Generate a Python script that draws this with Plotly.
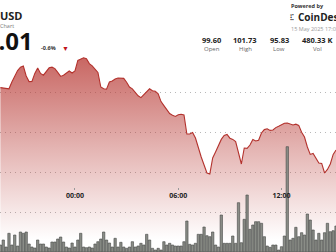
import plotly.graph_objects as go
import pandas as pd

# ---------------- data ----------------
start_time = "2025-05-14 19:40"
price = [100.22, 100.20, 100.19, 100.16, 100.50, 100.82, 101.07, 101.24, 101.30, 100.80,
         100.52, 100.53, 100.93, 101.20, 100.93, 100.84, 101.05, 101.21, 101.24, 101.17,
         100.98, 100.78, 100.84, 100.97, 101.05, 100.95, 101.05, 101.58, 101.64, 101.71,
         101.66, 101.42, 101.31, 101.17, 100.98, 100.25, 100.16, 100.14, 100.50, 100.55,
         100.65, 100.70, 100.68, 100.68, 100.49, 100.25, 100.16, 99.97, 99.81, 99.72,
         99.85, 100.00, 100.16, 100.06, 100.04, 99.91, 99.52, 99.32, 99.11, 98.92,
         98.84, 98.78, 98.86, 98.89, 98.85, 97.90, 97.90, 97.98, 97.70, 97.16,
         96.75, 96.35, 95.95, 95.90, 96.70, 97.00, 97.35, 97.63, 97.83, 97.88,
         97.69, 97.63, 97.52, 96.93, 96.40, 97.20, 97.18, 97.35, 97.63, 97.55,
         97.59, 97.95, 98.12, 98.16, 98.08, 98.10, 98.22, 98.29, 98.35, 98.44,
         98.45, 98.38, 98.35, 98.39, 98.33, 97.99, 97.75, 97.25, 96.88, 96.93,
         96.68, 96.45, 96.43, 95.95, 96.13, 96.40, 96.88, 97.10]
volume = [7, 12, 5, 18.7, 7, 17, 6, 20, 18.7, 20,
          8, 5, 4, 12, 8, 8, 5, 4, 10, 10,
          13, 15, 10, 5, 4, 9, 5, 12, 18.7, 5,
          4.3, 5, 4, 8, 10.3, 13, 20, 12, 9, 5,
          13.7, 5, 9.7, 5, 3.7, 5, 10.3, 5, 6, 8.7,
          7, 17.7, 12, 3.7, 2, 3.7, 2, 10.3, 7, 8.7,
          7, 6, 6, 6, 10.3, 31, 7.7, 7, 8.7, 17.7,
          17.7, 25, 16.3, 15.3, 20, 7, 5, 37, 8.7, 8.7,
          8.7, 16, 8.7, 49.3, 9.3, 32.7, 57, 22.7, 27, 30.3,
          30.3, 28.7, 15.3, 6, 4.7, 7, 7, 2, 5.3, 16,
          105.3, 12, 13.7, 24.7, 15.3, 19.3, 17, 38, 32, 22,
          12, 18.7, 12, 19.3, 28.7, 20.3, 21.3, 26]
times = pd.date_range(start_time, periods=len(price), freq="10min")

tick_vals = ["2025-05-15 00:00", "2025-05-15 06:00", "2025-05-15 12:00"]
tick_text = ["00:00", "06:00", "12:00"]
grid_vals = [94, 96, 98, 100]

stat_values = ["99.60", "101.73", "95.83", "480.33 K"]
stat_labels = ["Open", "High", "Low", "Vol"]

W, H = 336, 252
FONT = "Open Sans"

fig = go.Figure()
fig.add_trace(go.Scatter(
    x=times, y=price, mode="lines",
    line=dict(color="#b3322d", width=1.1),
    fill="tozeroy",
    fillgradient=dict(type="vertical", start=92.6, stop=101.7,
                      colorscale=[[0, "rgba(185,60,55,0)"],
                                  [0.5, "rgba(185,60,55,0.38)"],
                                  [1, "rgba(185,60,55,0.78)"]]),
    hoverinfo="skip",
))
fig.add_trace(go.Bar(
    x=times, y=volume, yaxis="y2",
    marker=dict(color="#8a8d87", line=dict(color="#444744", width=0.6)),
    hoverinfo="skip",
))

fig.update_layout(
    width=W, height=H,
    margin=dict(l=0, r=0, t=0, b=0),
    paper_bgcolor="white", plot_bgcolor="white",
    showlegend=False, bargap=0.18,
    xaxis=dict(range=["2025-05-14 19:38:40", "2025-05-15 15:09:50"],
               tickvals=tick_vals, ticktext=tick_text,
               anchor="free", position=1 - 187 / H,
               ticks="outside", ticklen=2, tickcolor="#999999",
               tickfont=dict(family=FONT, size=7, color="#222222", weight=700),
               showgrid=False, showline=False, zeroline=False),
    yaxis=dict(range=[92, 104.6], tickvals=grid_vals, showticklabels=False,
               showgrid=True, gridcolor="#b8b8b8", griddash="1px,4px", gridwidth=1,
               zeroline=False, showline=False),
    yaxis2=dict(range=[0, 252], overlaying="y", visible=False),
)

def ann(text, px, py, size, color, xanchor="left", bold=False):
    fig.add_annotation(
        text=f"<b>{text}</b>" if bold else text,
        xref="paper", yref="paper", x=px / W, y=1 - py / H,
        xanchor=xanchor, yanchor="middle", showarrow=False, borderpad=0,
        font=dict(family=FONT, size=size, color=color))

# header left
ann("USD", -1, 15, 11, "#222222", bold=True)
ann("Chart", -1, 26, 5.5, "#777777")
ann("99.01", 34, 41, 24, "#111111", xanchor="right", bold=True)
ann("-0.6%", 40, 48.5, 5.5, "#333333", bold=True)
ann("▼", 61, 48.5, 7, "#c0141b")

# header right
ann("Powered by", 290, 6, 5.5, "#333333", bold=True)
ann("⁝⁚", 289, 17, 8, "#222222", bold=True)
ann("CoinDesk", 297, 17, 10, "#222222", bold=True)
ann("15 May 2025 17:05", 290, 29, 5.5, "#999999")
stat_x = [211.5, 245, 279, 317]
for sx, v, l in zip(stat_x, stat_values, stat_labels):
    ann(v, sx, 40, 7.5, "#222222", xanchor="center", bold=True)
    ann(l, sx, 49, 6, "#666666", xanchor="center")

fig.write_html("out.html")
